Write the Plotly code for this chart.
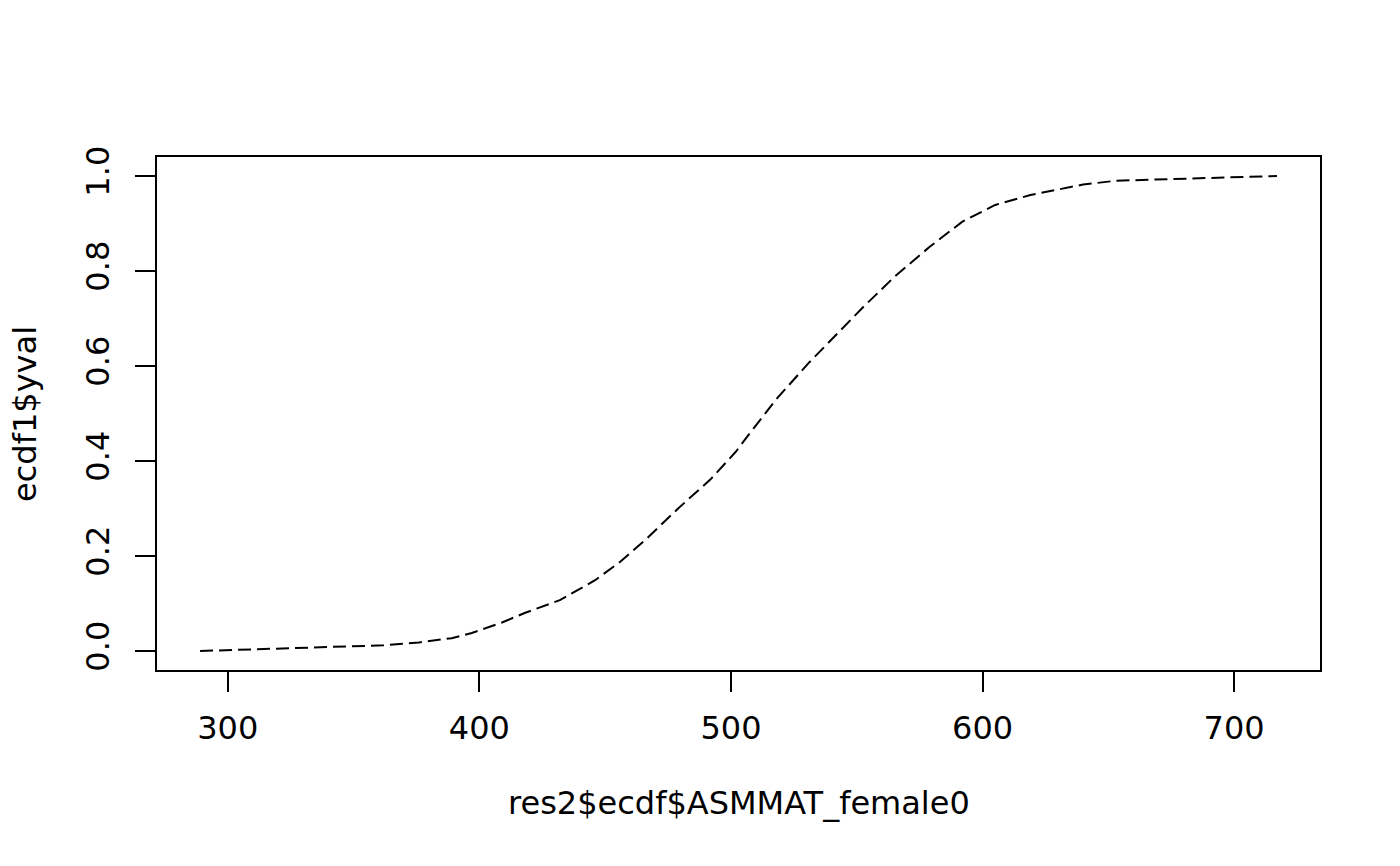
import plotly.graph_objects as go

# ECDF values
asmmat_female0 = [289, 309, 329, 349, 362, 376, 389, 397, 409, 418, 432, 446, 456,
                  466, 479, 492, 502, 507, 518, 531, 544, 552, 565, 579, 592, 605,
                  619, 632, 640, 653, 673, 693, 717]
ecdf_yval = [0.0, 0.003, 0.006, 0.009, 0.012, 0.018, 0.027, 0.038, 0.060, 0.080,
             0.107, 0.149, 0.188, 0.234, 0.300, 0.362, 0.420, 0.455, 0.530, 0.607,
             0.678, 0.721, 0.788, 0.851, 0.904, 0.939, 0.960, 0.974, 0.982, 0.990,
             0.993, 0.996, 1.0]

x_ticks = [300, 400, 500, 600, 700]
y_ticks = [0.0, 0.2, 0.4, 0.6, 0.8, 1.0]

FONT = "DejaVu Sans"
FS = 32

fig = go.Figure()
fig.add_trace(go.Scatter(
    x=asmmat_female0, y=ecdf_yval, mode="lines",
    line=dict(color="black", width=2, dash="13px,6px"),
    showlegend=False, hoverinfo="skip"))

xmin, xmax = min(asmmat_female0), max(asmmat_female0)
pad = (xmax - xmin) * 0.04

axis_common = dict(
    showline=True, linecolor="black", linewidth=1.5, mirror=True,
    showgrid=False, zeroline=False,
    ticks="outside", ticklen=20, tickwidth=1.5, tickcolor="black",
    tickfont=dict(family=FONT, size=FS, color="black"),
)

fig.update_xaxes(range=[xmin - pad, xmax + pad], tickvals=x_ticks,
                 ticktext=[str(v) for v in x_ticks], ticklabelstandoff=9,
                 **axis_common)
fig.update_yaxes(range=[-0.04, 1.04], tickvals=y_ticks,
                 ticktext=[f"{v:.1f}" for v in y_ticks], tickangle=-90,
                 ticklabelstandoff=13, **axis_common)

fig.add_annotation(text="res2$ecdf$ASMMAT_female0", xref="paper", yref="paper",
                   x=0.5, y=-0.26, xanchor="center", yanchor="middle",
                   showarrow=False, font=dict(family=FONT, size=FS, color="black"))
fig.add_annotation(text="ecdf1$yval", xref="paper", yref="paper",
                   x=-0.114, y=0.5, xanchor="center", yanchor="middle", textangle=-90,
                   showarrow=False, font=dict(family=FONT, size=FS, color="black"))

fig.update_layout(
    width=1400, height=866,
    margin=dict(l=157, r=80, t=157, b=196),
    paper_bgcolor="white", plot_bgcolor="white",
    font=dict(family=FONT, size=FS, color="black"),
)

# remove the browser's default 8px body margin so the figure fills the window
fig.write_html("out.html",
               config={"displayModeBar": False},
               post_script="document.body.style.margin='0';document.body.style.overflow='hidden';")
